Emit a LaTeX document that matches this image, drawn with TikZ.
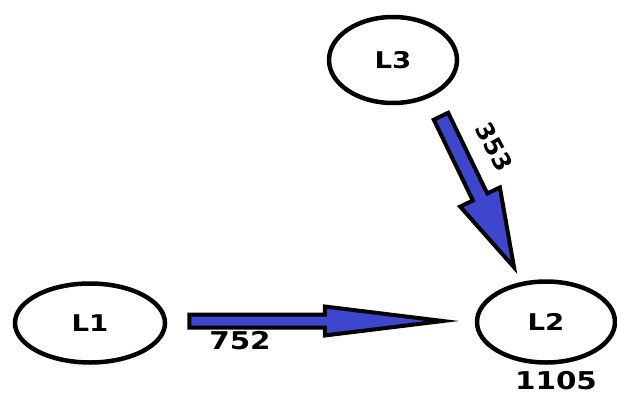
\documentclass[tikz,border=0pt]{standalone}
\usepackage{fontspec}
\setmainfont[FakeStretch=1.2]{DejaVu Sans}
\newfontfamily\slantlabelfont{DejaVu Sans}
\usetikzlibrary{calc,shapes.geometric}
\definecolor{flowblue}{RGB}{62,70,205}
\tikzset{
  lake/.style={ellipse, draw, line width=4.5pt, inner sep=0pt,
    font=\fontsize{23}{23}\selectfont\bfseries},
  flowlabel/.style={inner sep=0pt, font=\fontsize{24.5}{24.5}\selectfont\bfseries}
}
% fat arrow: (start)(tip)(shaft half width:head half width:head length)
\def\fatarrow(#1)(#2)(#3:#4:#5){%
  \coordinate (fa-base) at ($(#2)!#5!(#1)$);
  \filldraw[fill=flowblue, line width=4pt, line join=miter]
    ($(#1)!#3!90:(#2)$) -- ($(fa-base)!#3!90:(#2)$) -- ($(fa-base)!#4!90:(#2)$) -- (#2)
    -- ($(fa-base)!#4!-90:(#2)$) -- ($(fa-base)!#3!-90:(#2)$) -- ($(#1)!#3!-90:(#2)$) -- cycle;}

\begin{document}
\begin{tikzpicture}[x=1pt, y=-1pt]
		%%%%% START %%%%%
		\useasboundingbox (0,0) rectangle (617,398);
		
		\node[lake, minimum width=150pt, minimum height=79pt] (l1) at (90,323) {L1};
		\node[lake, minimum width=138pt, minimum height=81pt] (l2) at (546,322) {L2};
		\node[lake, minimum width=128pt, minimum height=86pt] (l3) at (393,60) {L3};
		
		\coordinate (f12s) at ($(l1.east)+(22,-2)$);
		\coordinate (f12t) at ($(l2.west)+(-32,-1)$);
		\fatarrow(f12s)(f12t)(6.5pt:14.5pt:118pt);
		
		\coordinate (f32s) at ($(l3.south)+(48,11)$);
		\coordinate (f32t) at ($(l2.north)+(-32,-12)$);
		\fatarrow(f32s)(f32t)(8pt:22pt:78pt);
		
		\node[flowlabel] (n752) at (240,341) {752};
		\node[flowlabel, rotate=-62, font=\fontsize{24.5}{24.5}\slantlabelfont\bfseries] (n353) at (494,147) {353};
		\node[flowlabel] (n1105) at (556,381) {1105};
		%%%%% END %%%%%
\end{tikzpicture}
\end{document}
